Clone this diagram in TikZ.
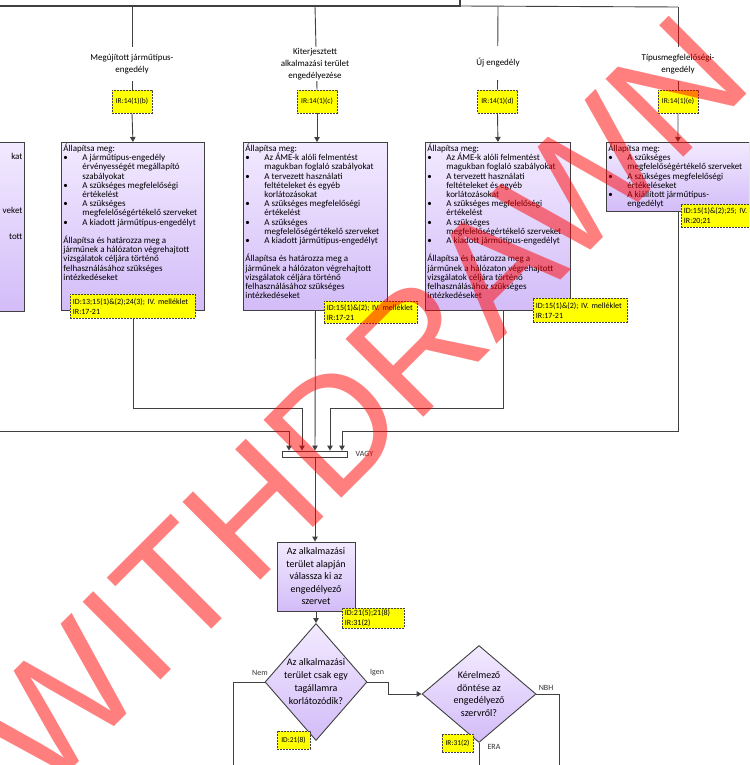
\documentclass[tikz,border=0pt]{standalone}
\usepackage{fontspec}
\setmainfont{Carlito}
\newfontfamily\wmfont{Liberation Sans}
\usetikzlibrary{arrows.meta,shapes.geometric,backgrounds}
\definecolor{ln}{HTML}{404040}
\definecolor{boxtop}{HTML}{F2EAFF}
\definecolor{boxbot}{HTML}{D3BCF8}
\definecolor{yel}{HTML}{FFFF00}
\newcommand{\bl}{\makebox[19pt][l]{\textbullet}}
\newcommand{\ind}{\hspace*{19pt}}
\tikzset{
  conn/.style={draw=ln, line width=0.9pt},
  arr/.style={conn, -{Triangle[width=5.5pt,length=5pt]}},
  lbl/.style={fill=white, align=center, font=\fontsize{9}{12}\selectfont, minimum height=34pt, inner sep=1pt},
  irbox/.style={draw=ln, fill=yel, dash pattern=on 2pt off 1pt, line width=0.8pt, minimum width=40pt, minimum height=23pt, inner sep=0pt, font=\fontsize{7.5}{9}\selectfont},
  idbox/.style={draw=ln, fill=yel, dash pattern=on 2pt off 1pt, line width=0.8pt, inner xsep=2.5pt, inner ysep=1pt, align=left, anchor=north west, font=\fontsize{8}{10}\selectfont},
  pbox/.style={draw=ln, line width=0.9pt, top color=boxtop, bottom color=boxbot, anchor=north west, inner xsep=2pt, inner ysep=1.5pt, font=\fontsize{9}{9.2}\selectfont},
  dia/.style={draw=ln, line width=0.9pt, top color=boxtop, bottom color=boxbot, shape=diamond, inner sep=0pt},
  small/.style={font=\fontsize{8}{9}\selectfont, inner sep=0.5pt, text=black!80},
}
\begin{document}
\begin{tikzpicture}[x=1pt,y=-1pt]
\useasboundingbox (0,0) rectangle (749,765);
\clip (0,0) rectangle (749,765);
% ---- bus coordinates
\coordinate (bus1) at (132,6);
\coordinate (bus2) at (315,6);
\coordinate (bus3) at (498,7);
\coordinate (bus4) at (678,7);
\coordinate (busL) at (0,6);
\coordinate (busM) at (460,6);
\coordinate (busUp) at (460,0);
\coordinate (c0) at (0,431);

% ---- labels
\node[lbl] (l1) at (132,64) {Megújított járműtípus-\\engedély};
\node[lbl] (l2) at (315,64) {Kiterjesztett\\alkalmazási terület\\engedélyezése};
\node[lbl] (l3) at (498,63) {Új engedély};
\node[lbl] (l4) at (678,64) {Típusmegfelelőségi-\\engedély};

% ---- IR boxes
\node[irbox] (y1) at (132,101.5) {IR:14(1)(b)};
\node[irbox] (y2) at (317,101.5) {IR:14(1)(c)};
\node[irbox] (y3) at (497.5,101.5) {IR:14(1)(d)};
\node[irbox] (y4) at (678,101.5) {IR:14(1)(e)};

% ---- main boxes
\node[pbox] (b0) at (-150,142) {\parbox[t][166pt][t]{170pt}{\raggedleft ~\\[6pt]kat\\[45pt]veket\\[17pt]tott}};
\node[pbox] (b1) at (61,142) {\parbox[t][165pt][t]{139pt}{\raggedright
Állapítsa meg:\\
\bl A járműtípus-engedély\\
\ind érvényességét megállapító\\
\ind szabályokat\\
\bl A szükséges megfelelőségi\\
\ind értékelést\\
\bl A szükséges\\
\ind megfelelőségértékelő szerveket\\
\bl A kiadott járműtípus-engedélyt\\[9.2pt]
Állapítsa és határozza meg a\\
járműnek a hálózaton végrehajtott\\
vizsgálatok céljára történő\\
felhasználásához szükséges\\
intézkedéseket}};
\node[pbox] (b2) at (243,142) {\parbox[t][165pt][t]{140pt}{\raggedright
Állapítsa meg:\\
\bl Az ÁME-k alóli felmentést\\
\ind magukban foglaló szabályokat\\
\bl A tervezett használati\\
\ind feltételeket és egyéb\\
\ind korlátozásokat\\
\bl A szükséges megfelelőségi\\
\ind értékelést\\
\bl A szükséges\\
\ind megfelelőségértékelő szerveket\\
\bl A kiadott járműtípus-engedélyt\\[9.2pt]
Állapítsa és határozza meg a\\
járműnek a hálózaton végrehajtott\\
vizsgálatok céljára történő\\
felhasználásához szükséges\\
intézkedéseket}};
\node[pbox] (b3) at (425,142) {\parbox[t][165pt][t]{141pt}{\raggedright
Állapítsa meg:\\
\bl Az ÁME-k alóli felmentést\\
\ind magukban foglaló szabályokat\\
\bl A tervezett használati\\
\ind feltételeket és egyéb\\
\ind korlátozásokat\\
\bl A szükséges megfelelőségi\\
\ind értékelést\\
\bl A szükséges\\
\ind megfelelőségértékelő szerveket\\
\bl A kiadott járműtípus-engedélyt\\[9.2pt]
Állapítsa és határozza meg a\\
járműnek a hálózaton végrehajtott\\
vizsgálatok céljára történő\\
felhasználásához szükséges\\
intézkedéseket}};
\node[pbox] (b4) at (606,142) {\parbox[t][66pt][t]{139pt}{\raggedright
Állapítsa meg:\\
\bl A szükséges\\
\ind megfelelőségértékelő szerveket\\
\bl A szükséges megfelelőségi\\
\ind értékeléseket\\
\bl A kiállított járműtípus-\\
\ind engedélyt}};

% ---- ID boxes
\node[idbox, text width=120pt, minimum height=24pt] (i1) at (70,294) {ID:13;15(1)\&(2);24(3); IV. melléklet\\IR:17-21};
\node[idbox, text width=88pt, minimum height=22pt] (i2) at (324,301) {ID:15(1)\&(2); IV. melléklet\\IR:17-21};
\node[idbox, text width=89pt, minimum height=24pt] (i3) at (533,298) {ID:15(1)\&(2); IV. melléklet\\IR:17-21};
\node[idbox, text width=85pt, minimum height=23pt] (i4) at (681,204) {ID:15(1)\&(2);25; IV.\\IR:20;21};

% ---- OR bar
\node[draw=ln, fill=white, line width=0.9pt, minimum width=65pt, minimum height=6pt, inner sep=0pt] (bar) at (315,454) {};
\node[small, anchor=west] (vagy) at (355,454) {VAGY};

% ---- lower process
\node[draw=ln, line width=0.9pt, top color=boxtop, bottom color=boxbot, minimum width=78pt, minimum height=69pt, inner sep=1pt, align=center, font=\fontsize{10}{12.5}\selectfont] (p5) at (316,576.5) {Az alkalmazási\\terület alapján\\válassza ki az\\engedélyező\\szervet};
\node[idbox, text width=57pt, minimum height=20pt] (i5) at (342,608) {ID:21(5);21(8)\\IR:31(2)};

\node[dia, minimum width=102pt, minimum height=117pt,
  label={[align=center, font=\fontsize{10}{13}\selectfont]center:Az alkalmazási\\terület csak egy\\tagállamra\\korlátozódik?}] (d1) at (316,682) {};
\node[dia, minimum width=114pt, minimum height=97pt,
  label={[align=center, font=\fontsize{10}{12.5}\selectfont]center:Kérelmező\\döntése az\\engedélyező\\szervről?}] (d2) at (479,694) {};
\node[irbox, minimum width=33pt, minimum height=18pt] (i6) at (293.5,740) {ID:21(8)};
\node[irbox, minimum width=31pt, minimum height=18pt] (i7) at (457.5,743) {IR:31(2)};

\node[small] (nem) at (260,673) {Nem};
\node[small] (igen) at (377,673) {Igen};
\node[small] (nbh) at (546,688) {NBH};
\node[small] (era) at (494,747) {ERA};

\coordinate (nemEnd) at (233,770);
\coordinate (nbhEnd) at (559,770);
\coordinate (eraEnd) at (479,770);

% ---- connectors
\begin{scope}[on background layer]
\draw[ln, line width=2.2pt] (busL) -- (busM);
\draw[ln, line width=1.5pt] (busUp) -- (460,7);
\draw[conn] (busM) -- (bus4);
\draw[conn] (bus1) -- (y1.north);
\draw[conn] (bus2) -- (y2.north);
\draw[conn] (bus3) -- (y3.north);
\draw[conn] (bus4) -- (y4.north);
\draw[arr] (y1.south) -- (b1.north);
\draw[arr] (y2.south) -- (b2.north -| y2.south);
\draw[arr] (y3.south) -- (b3.north);
\draw[arr] (y4.south) -- (b4.north);

\draw[arr] (b1.south) -- ++(0,98) -| ([xshift=-13pt]bar.north);
\draw[arr] (b2.south) -- (bar.north);
\draw[arr] ([xshift=5.5pt]b3.south) -- ++(0,98) -| ([xshift=15pt]bar.north);
\draw[arr] (b4.south) -- ++(0,220) -| ([xshift=27pt]bar.north);
\draw[arr] (c0) -| ([xshift=-26pt]bar.north);

\draw[arr] (bar.south) -- (bar.south |- p5.north);
\draw[arr] (p5.south) -- (d1.north);
\draw[conn] (d1.west) -| (nemEnd);
\draw[arr] (d1.east) -- ++(21,0) |- (d2.west);
\draw[conn] (d2.east) -| (nbhEnd);
\draw[conn] (d2.south) -- (eraEnd);
\end{scope}

% ---- watermark
\node[text=red, text opacity=0.5, rotate=45, font=\wmfont\fontsize{160}{160}\selectfont, inner sep=0pt] (wm) at (361,402) {WITHDRAWN};
\end{tikzpicture}
\end{document}
